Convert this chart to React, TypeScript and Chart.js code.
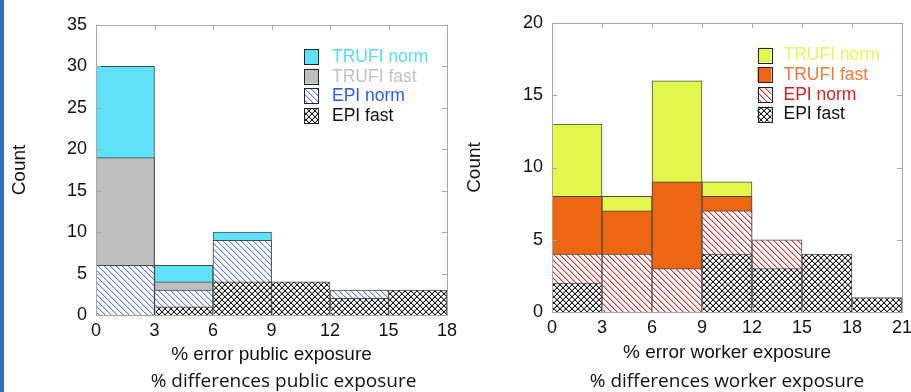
import React, { useEffect, useRef } from "react";
import { Chart, registerables } from "chart.js";
Chart.register(...registerables);

// ---------- data ----------
const seriesNames = ["TRUFI norm", "TRUFI fast", "EPI norm", "EPI fast"];
const binWidth = 3;

const publicBinStarts = [0, 3, 6, 9, 12, 15];
const publicTrufiNorm = [30, 6, 10, 0, 0, 0];
const publicTrufiFast = [19, 4, 0, 0, 0, 0];
const publicEpiNorm = [6, 3, 9, 0, 3, 0];
const publicEpiFast = [0, 1, 4, 4, 2, 3];
const publicXTicks = [0, 3, 6, 9, 12, 15, 18];
const publicYTicks = [0, 5, 10, 15, 20, 25, 30, 35];
const publicXTitle = "% error public exposure";
const publicCaption = "% differences public exposure";

const workerBinStarts = [0, 3, 6, 9, 12, 15, 18];
const workerTrufiNorm = [13, 8, 16, 9, 0, 0, 0];
const workerTrufiFast = [8, 7, 9, 8, 0, 0, 0];
const workerEpiNorm = [4, 4, 3, 7, 5, 0, 0];
const workerEpiFast = [2, 0, 0, 4, 3, 4, 1];
const workerXTicks = [0, 3, 6, 9, 12, 15, 18, 21];
const workerYTicks = [0, 5, 10, 15, 20];
const workerXTitle = "% error worker exposure";
const workerCaption = "% differences worker exposure";

const yTitle = "Count";

const FONT = "'Liberation Sans', Arial, sans-serif";

// ---------- helpers ----------
function makeHatch(color: string, halo: string, cross: boolean, size: number) {
  const c = document.createElement("canvas");
  c.width = size;
  c.height = size;
  const g = c.getContext("2d")!;
  g.fillStyle = "#ffffff";
  g.fillRect(0, 0, size, size);
  g.fillStyle = halo;
  for (let i = 0; i < size; i++) {
    g.fillRect((i + 1) % size, i, 1, 1);
    if (cross) g.fillRect((size * 2 - 2 - i) % size, i, 1, 1);
  }
  g.fillStyle = color;
  for (let i = 0; i < size; i++) {
    g.fillRect(i, i, 1, 1);
    if (cross) g.fillRect(size - 1 - i, i, 1, 1);
  }
  return g.createPattern(c, "repeat")!;
}

type PanelProps = {
  left: number;
  width: number;
  binStarts: number[];
  series: number[][];
  fills: string[];
  hatchColor: string;
  hatchHalo: string;
  textColors: string[];
  xTicks: number[];
  yTicks: number[];
  xTitle: string;
  caption: string;
  padTop: number;
  padRight: number;
  yWidth: number;
  xHeight: number;
  xTitlePad: number;
  legendDx: number;
  legendDy: number;
  textGap: number;
  captionDx: number;
};

function Panel(p: PanelProps) {
  const ref = useRef<HTMLCanvasElement>(null);
  useEffect(() => {
    const canvas = ref.current!;
    const epiNormPat = makeHatch(p.hatchColor, p.hatchHalo, false, 6);
    const epiFastPat = makeHatch("#202020", "#b8b8b8", true, 6);
    const bgs: any[] = [p.fills[0], p.fills[1], epiNormPat, epiFastPat];

    const datasets = p.series.map((vals, i) => ({
      label: seriesNames[i],
      data: vals.map((v, j) => ({ x: p.binStarts[j] + binWidth / 2, y: v })),
      backgroundColor: bgs[i],
      hoverBackgroundColor: bgs[i],
      borderColor: "#4a4a4a",
      borderWidth: 1,
      grouped: false,
      barPercentage: 1,
      categoryPercentage: 1,
      order: p.series.length - i,
    }));

    const xMin = p.xTicks[0];
    const xMax = p.xTicks[p.xTicks.length - 1];
    const yMax = p.yTicks[p.yTicks.length - 1];

    const decor = {
      id: "decor",
      afterDatasetsDraw(chart: any) {
        const ctx = chart.ctx;
        const a = chart.chartArea;
        const xs = chart.scales.x;
        const ys = chart.scales.y;
        ctx.save();
        ctx.strokeStyle = "#a8a8a8";
        ctx.lineWidth = 1;
        ctx.beginPath();
        const tl = 5;
        p.xTicks.forEach((v) => {
          const px = Math.round(xs.getPixelForValue(v)) + 0.5;
          ctx.moveTo(px, a.top);
          ctx.lineTo(px, a.top + tl);
          ctx.moveTo(px, a.bottom);
          ctx.lineTo(px, a.bottom - tl);
        });
        p.yTicks.forEach((v) => {
          const py = Math.round(ys.getPixelForValue(v)) + 0.5;
          ctx.moveTo(a.left, py);
          ctx.lineTo(a.left + tl, py);
          ctx.moveTo(a.right, py);
          ctx.lineTo(a.right - tl, py);
        });
        ctx.stroke();
        ctx.strokeRect(
          Math.round(a.left) + 0.5,
          Math.round(a.top) + 0.5,
          Math.round(a.right - a.left),
          Math.round(a.bottom - a.top)
        );
        ctx.restore();
      },
      afterDraw(chart: any) {
        const ctx = chart.ctx;
        const a = chart.chartArea;
        ctx.save();
        // legend
        const rowH = 19.7;
        const bx = a.left + p.legendDx;
        seriesNames.forEach((name, i) => {
          const cy = a.top + p.legendDy + i * rowH;
          ctx.fillStyle = bgs[i];
          ctx.fillRect(bx, cy - 7, 14, 15);
          ctx.strokeStyle = "#222";
          ctx.lineWidth = 1;
          ctx.strokeRect(Math.round(bx) + 0.5, Math.round(cy - 7) + 0.5, 14, 15);
          ctx.fillStyle = p.textColors[i];
          ctx.font = "17.5px " + FONT;
          ctx.textBaseline = "middle";
          ctx.textAlign = "left";
          ctx.fillText(name, bx + 14 + p.textGap, cy + 1);
        });
        // caption
        ctx.fillStyle = "#111";
        ctx.font = "19px 'Open Sans', sans-serif";
        ctx.textAlign = "center";
        ctx.textBaseline = "middle";
        ctx.fillText(p.caption, (a.left + a.right) / 2 + p.captionDx, chart.height - 10);
        ctx.restore();
      },
    };

    const chart = new Chart(canvas, {
      type: "bar",
      data: { datasets: datasets as any },
      plugins: [decor],
      options: {
        animation: false,
        responsive: false,
        devicePixelRatio: 1,
        events: [],
        layout: { padding: { top: p.padTop, right: p.padRight, left: 0, bottom: 19 } },
        plugins: { legend: { display: false }, tooltip: { enabled: false }, title: { display: false } },
        scales: {
          x: {
            type: "linear",
            offset: false,
            min: xMin,
            max: xMax,
            grid: { display: false, drawTicks: false, offset: false },
            border: { display: false },
            ticks: {
              padding: 5,
              color: "#111",
              font: { family: FONT, size: 18 },
              maxRotation: 0,
              autoSkip: false,
            },
            afterBuildTicks: (s: any) => {
              s.ticks = p.xTicks.map((v) => ({ value: v }));
            },
            afterFit: (s: any) => {
              s.height = p.xHeight;
              s.paddingLeft = 0;
              s.paddingRight = 0;
            },
            title: {
              display: true,
              text: p.xTitle,
              color: "#111",
              font: { family: FONT, size: 19 },
              padding: { top: 0, bottom: p.xTitlePad },
            },
          } as any,
          y: {
            type: "linear",
            min: 0,
            max: yMax,
            grid: { display: false, drawTicks: false },
            border: { display: false },
            ticks: {
              padding: 9,
              color: "#111",
              font: { family: FONT, size: 18 },
              autoSkip: false,
            },
            afterBuildTicks: (s: any) => {
              s.ticks = p.yTicks.map((v) => ({ value: v }));
            },
            afterFit: (s: any) => {
              s.width = p.yWidth;
              s.paddingTop = 0;
              s.paddingBottom = 0;
            },
            title: {
              display: true,
              text: yTitle,
              color: "#111",
              font: { family: FONT, size: 19 },
              padding: { top: 8, bottom: 0 },
            },
          } as any,
        },
      },
    });
    return () => chart.destroy();
  }, []);
  return (
    <canvas
      ref={ref}
      width={p.width}
      height={392}
      style={{ position: "absolute", left: p.left, top: 0, width: p.width, height: 392 }}
    />
  );
}

export default function App() {
  return (
    <div style={{ position: "fixed", left: 0, top: 0, width: 911, height: 392, background: "#fff", overflow: "hidden" }}>
      <Panel
        left={0}
        width={470}
        binStarts={publicBinStarts}
        series={[publicTrufiNorm, publicTrufiFast, publicEpiNorm, publicEpiFast]}
        fills={["#5ee2fa", "#bebebe"]}
        hatchColor="#5c80dc"
        hatchHalo="#cad7f4"
        textColors={["#5cd9f2", "#c2c2c2", "#2a5ae8", "#111111"]}
        xTicks={publicXTicks}
        yTicks={publicYTicks}
        xTitle={publicXTitle}
        caption={publicCaption}
        padTop={25}
        padRight={23}
        yWidth={96}
        xHeight={58}
        xTitlePad={7}
        legendDx={208}
        legendDy={31}
        textGap={14}
        captionDx={12}
      />
      <Panel
        left={455}
        width={456}
        binStarts={workerBinStarts}
        series={[workerTrufiNorm, workerTrufiFast, workerEpiNorm, workerEpiFast]}
        fills={["#e2f74c", "#ee6612"]}
        hatchColor="#d03030"
        hatchHalo="#f2b0b0"
        textColors={["#e6f55c", "#f07a36", "#d42020", "#111111"]}
        xTicks={workerXTicks}
        yTicks={workerYTicks}
        xTitle={workerXTitle}
        caption={workerCaption}
        padTop={23}
        padRight={9}
        yWidth={97}
        xHeight={61}
        xTitlePad={9}
        legendDx={205.5}
        legendDy={31.5}
        textGap={12}
        captionDx={0}
      />
      <div style={{ position: "absolute", left: 0, top: 0, width: 4, height: 392, background: "#2f6cbd" }} />
    </div>
  );
}
